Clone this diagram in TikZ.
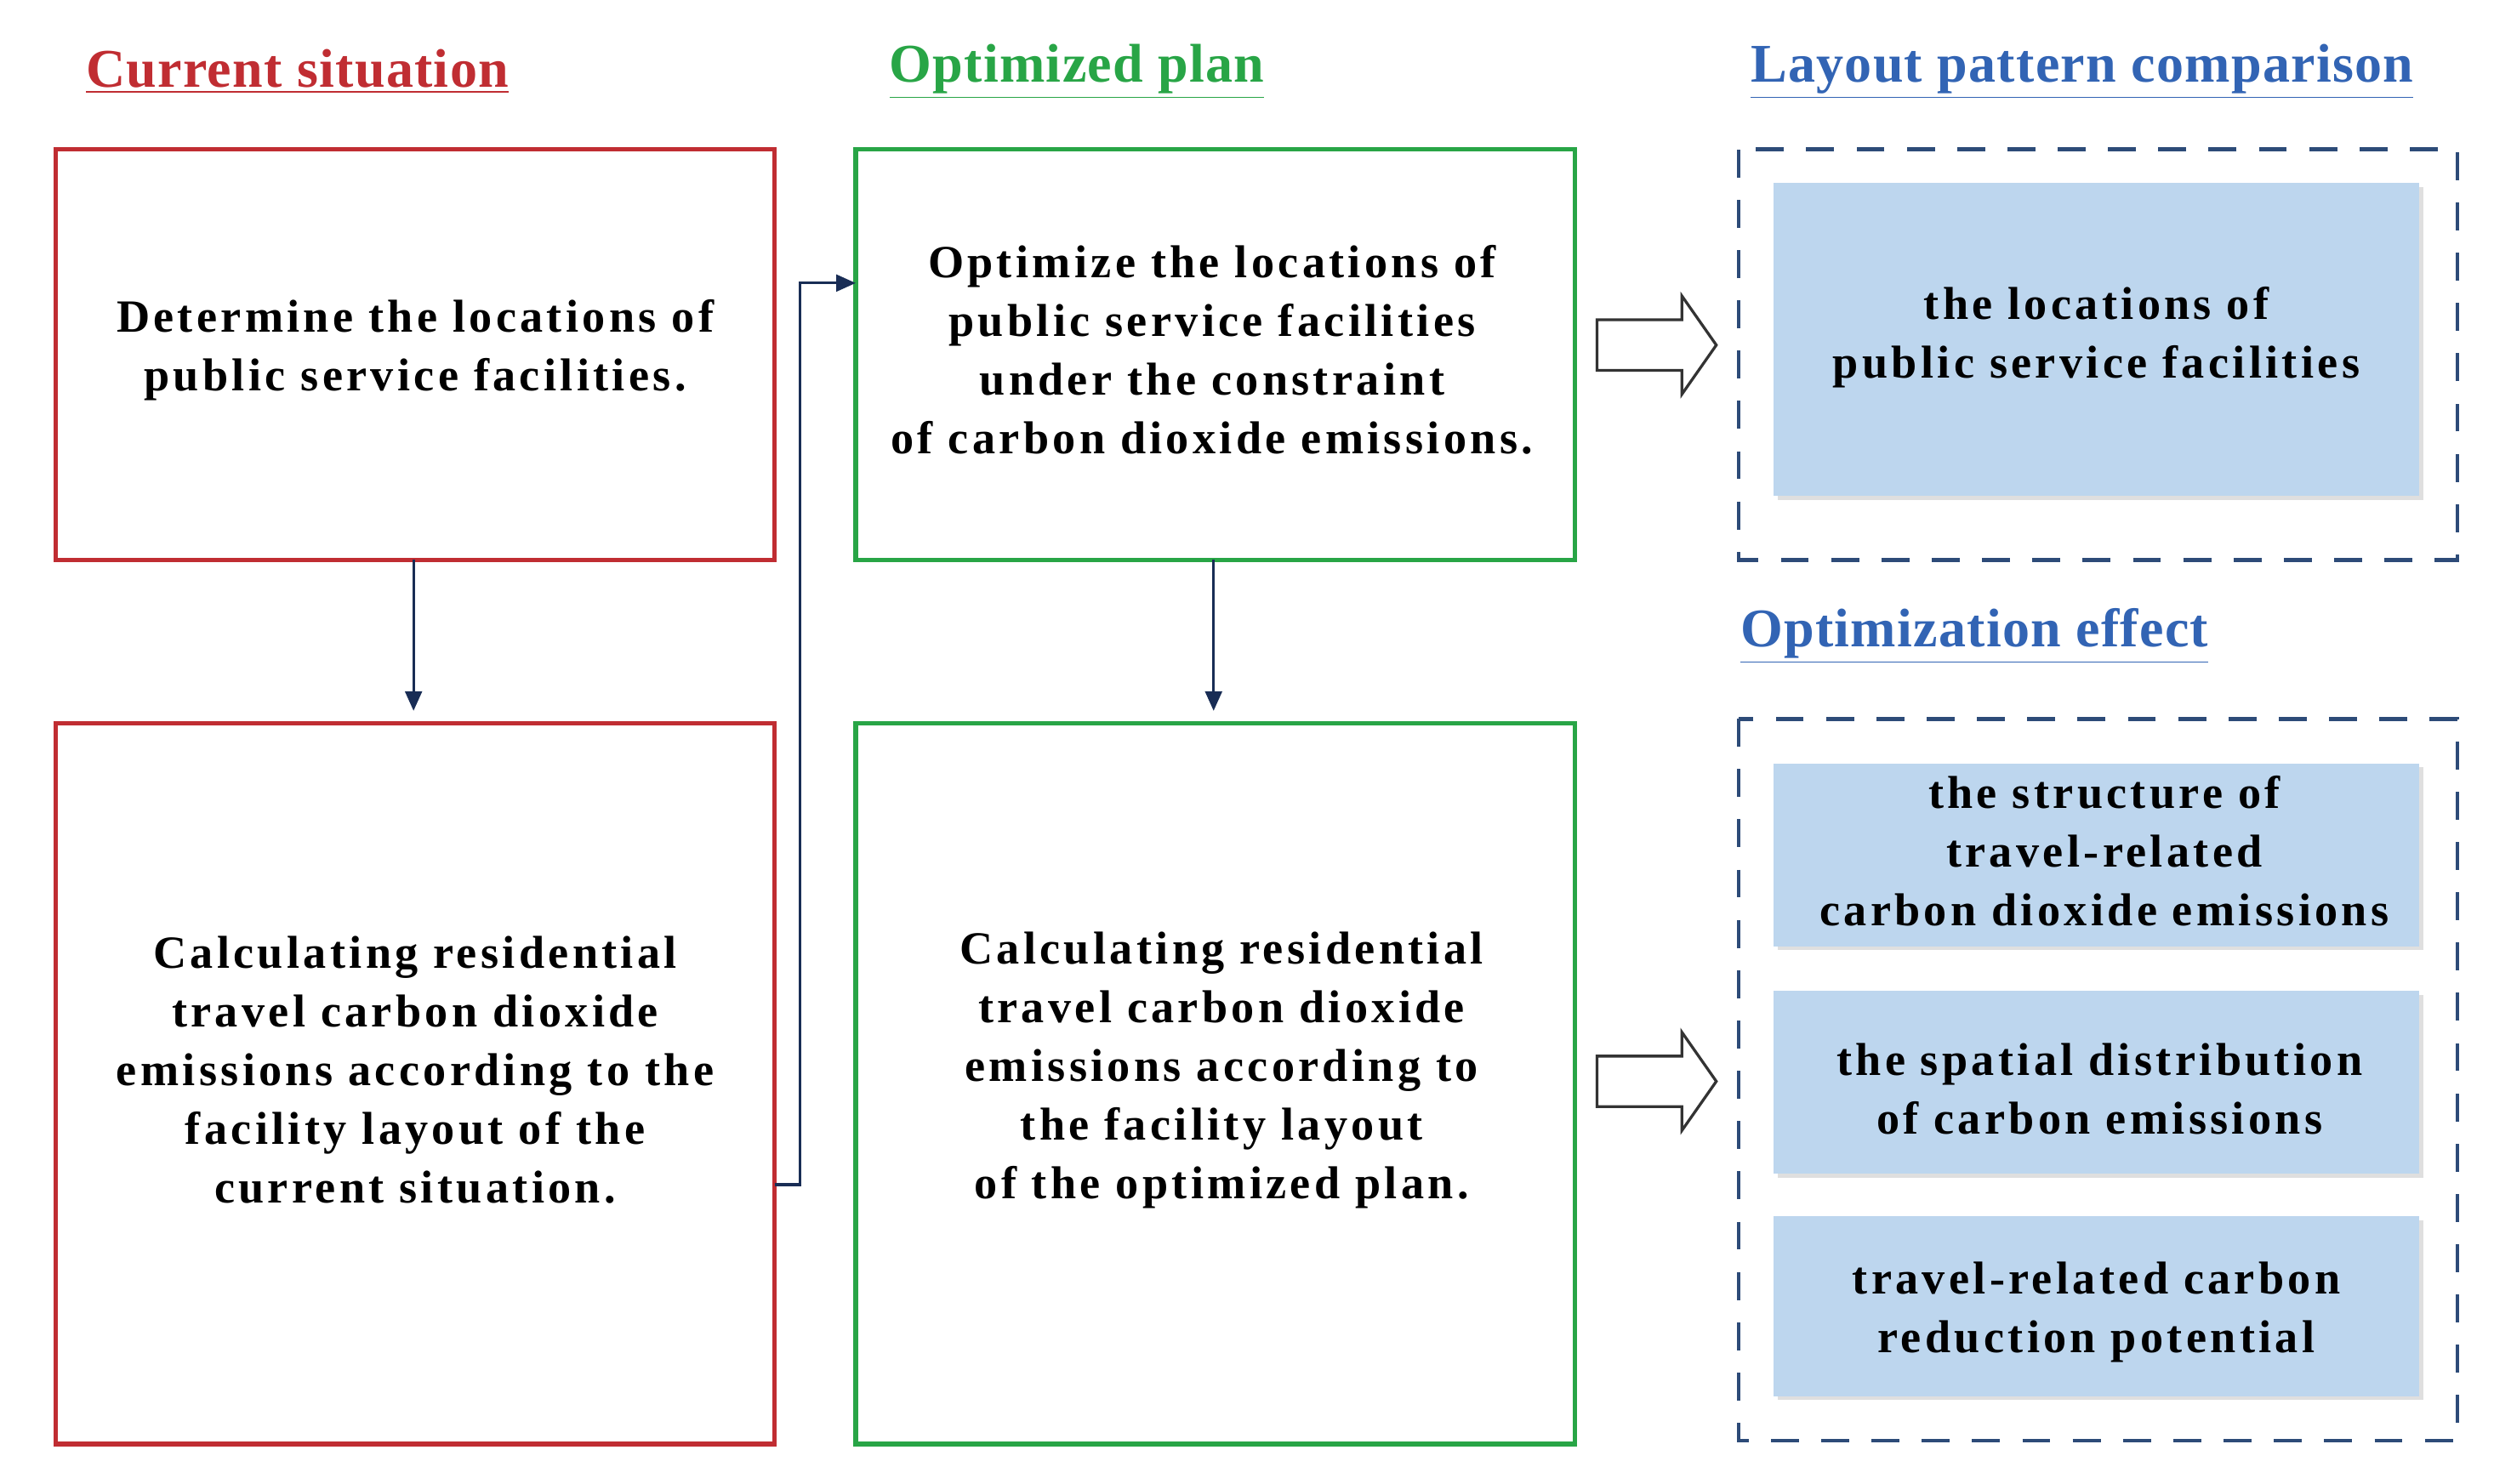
\documentclass[tikz,border=0pt]{standalone}
\usepackage{fontspec}
\setmainfont{Liberation Serif}[LetterSpace=8]
\newfontfamily\ttlfont{Liberation Serif}[LetterSpace=2]
\usetikzlibrary{shapes.arrows,shadows,arrows.meta}
\definecolor{cred}{RGB}{192,45,50}
\definecolor{cgreen}{RGB}{40,165,70}
\definecolor{cblue}{RGB}{50,100,180}
\definecolor{cfill}{RGB}{189,214,238}
\definecolor{cdash}{RGB}{45,75,120}
\definecolor{cnavy}{RGB}{25,45,85}
\begin{document}
\begin{tikzpicture}[x=0.02cm,y=-0.02cm,
  txt/.style={font=\bfseries\fontsize{16.5}{21}\selectfont,align=center,text=black},
  box/.style={draw=#1,line width=1.6pt},
  title/.style={font=\ttlfont\bfseries\fontsize{19.5}{23}\selectfont,text=#1},
  blue/.style={fill=cfill,draw=none,drop shadow={shadow xshift=0.5mm,shadow yshift=-0.5mm,opacity=0.25}},
  dbox/.style={draw=cdash,line width=1.4pt,dash pattern=on 10pt off 8pt},
  arr/.style={draw=cnavy,line width=1pt,-{Triangle[length=7pt,width=6pt]}},
  hol/.style={single arrow,draw=black!80,fill=white,line width=1pt,inner xsep=0pt,inner ysep=0.3cm,single arrow head extend=0.3cm,single arrow tip angle=110,minimum height=1.5cm}]
\useasboundingbox (0,0) rectangle (1568,933);
\node[title=cred] (t1) at (187,45) {\underline{Current situation}};
\node[title=cgreen] (t2) at (677,45) {\underline{Optimized plan}};
\node[title=cblue] (t3) at (1309,45) {\underline{Layout pattern comparison}};
\node[title=cblue,anchor=west] (t4) at (1088,400) {\underline{Optimization effect}};

\draw[box=cred] (35,94) rectangle (487,352);
\node[txt] (a) at (261,220) {Determine the locations of\\public service facilities.};
\draw[box=cred] (35,455) rectangle (487,908);
\node[txt] (b) at (261,673) {Calculating residential\\travel carbon dioxide\\emissions according to the\\facility layout of the\\current situation.};
\draw[box=cgreen] (538,94) rectangle (990,352);
\node[txt] (c) at (762,220) {Optimize the locations of\\public service facilities\\under the constraint\\of carbon dioxide emissions.};
\draw[box=cgreen] (538,455) rectangle (990,908);
\node[txt] (d) at (768,673) {Calculating residential\\travel carbon dioxide\\emissions according to\\the facility layout\\of the optimized plan.};

\coordinate (a1) at (260,352); \coordinate (a2) at (260,447);
\draw[arr] (a1) -- (a2);
\coordinate (c1) at (763,352); \coordinate (c2) at (763,447);
\draw[arr] (c1) -- (c2);
\coordinate (b1) at (487,745); \coordinate (b2) at (538,178);
\draw[arr] (b1) -- (503,745) -- (503,178) -- (b2);

\draw[dbox] (1093,94) rectangle (1545,352);
\draw[blue] (1115,115) rectangle (1521,312);
\node[txt] (e) at (1318,212) {the locations of\\public service facilities};
\draw[dbox] (1093,452) rectangle (1545,906);
\draw[blue] (1115,480) rectangle (1521,595);
\node[txt] (f) at (1323,535) {the structure of\\travel-related\\carbon dioxide emissions};
\draw[blue] (1115,623) rectangle (1521,738);
\node[txt] (g) at (1320,685) {the spatial distribution\\of carbon emissions};
\draw[blue] (1115,765) rectangle (1521,878);
\node[txt] (h) at (1318,825) {travel-related carbon\\reduction potential};

\node[hol] (h1) at (1036,217) {};
\node[hol] (h2) at (1036,680) {};
\end{tikzpicture}
\end{document}
